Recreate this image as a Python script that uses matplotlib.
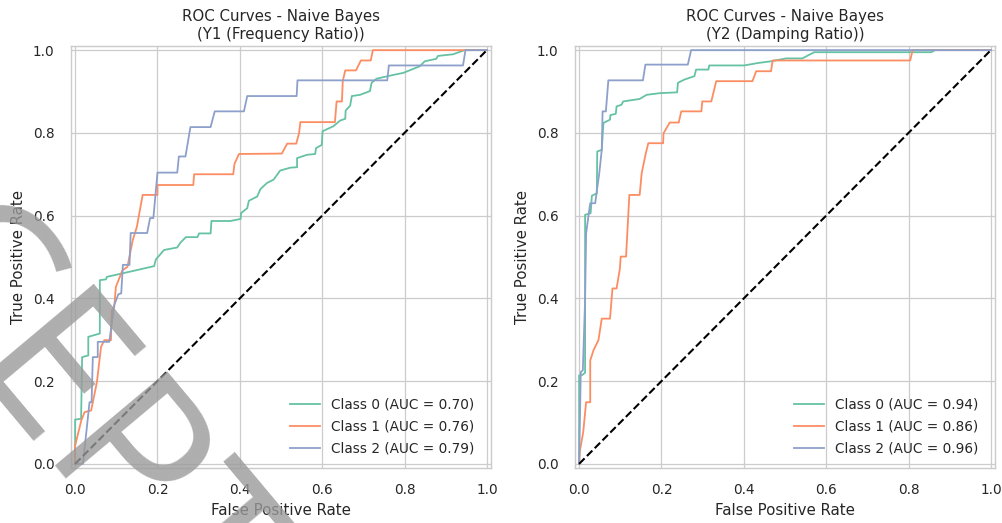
import matplotlib
matplotlib.use("Agg")
import numpy as np
import matplotlib.pyplot as plt
from matplotlib.font_manager import FontProperties
from matplotlib.textpath import TextPath

# ---------------- data ----------------
titles = ["ROC Curves - Naive Bayes\n(Y1 (Frequency Ratio))",
          "ROC Curves - Naive Bayes\n(Y2 (Damping Ratio))"]
class_labels = ["Class 0", "Class 1", "Class 2"]
auc_y1 = [0.70, 0.76, 0.79]
auc_y2 = [0.94, 0.86, 0.96]
ticks = [0.0, 0.2, 0.4, 0.6, 0.8, 1.0]

# Y1 curves
y1_c0_fpr = [0, 0, .0145, .017, .032, .032, .060, .060, .075, .077, .095, .144, .192, .196, .216, .248,
             .256, .269, .297, .301, .329, .331, .377, .402, .403, .418, .422, .442, .450, .466, .482,
             .498, .523, .539, .539, .563, .583, .585, .599, .601, .627, .644, .656, .657, .668, .672,
             .692, .716, .720, .732, .777, .797, .837, .849, .877, .881, .918, .946, 1.0]
y1_c0_tpr = [0, .107, .109, .258, .262, .307, .315, .444, .446, .452, .456, .467, .478, .494, .517, .523,
             .535, .548, .548, .557, .557, .587, .587, .592, .606, .618, .636, .646, .664, .679, .687,
             .709, .716, .717, .739, .747, .749, .763, .771, .804, .816, .830, .834, .854, .866, .889,
             .892, .901, .921, .931, .941, .945, .961, .973, .979, .986, .990, 1.0, 1.0]

y1_c1_fpr = [0, 0, .015, .023, .039, .043, .053, .063, .071, .087, .089, .095, .099, .115, .127, .140,
             .150, .164, .200, .200, .287, .289, .384, .387, .398, .502, .515, .537, .544, .547, .631,
             .635, .648, .650, .656, .682, .694, .718, .723, 1.0]
y1_c1_tpr = [0, .044, .105, .125, .129, .149, .198, .283, .299, .299, .371, .379, .428, .468, .476, .541,
             .573, .650, .650, .674, .674, .700, .700, .725, .749, .750, .774, .774, .800, .826, .826,
             .876, .876, .925, .951, .951, .975, .975, 1.0, 1.0]

y1_c2_fpr = [0, .019, .035, .040, .043, .055, .055, .083, .095, .105, .112, .116, .132, .135, .175, .182,
             .190, .200, .248, .252, .268, .280, .329, .339, .410, .418, .538, .540, .758, .762, .942,
             .948, 1.0]
y1_c2_tpr = [0, 0, .149, .149, .258, .258, .295, .295, .384, .410, .412, .481, .481, .558, .558, .594,
             .594, .704, .704, .743, .743, .814, .814, .852, .852, .889, .889, .927, .927, .963, .963,
             1.0, 1.0]

# Y2 curves
y2_c0_fpr = [0, 0, .006, .0145, .0145, .028, .031, .043, .044, .055, .059, .075, .076, .089, .091, .103,
             .107, .147, .164, .196, .238, .240, .256, .280, .284, .314, .316, .401, .435, .466, .502,
             .542, .571, .855, .865, 1.0]
y2_c0_tpr = [0, .214, .214, .220, .602, .606, .648, .654, .755, .759, .824, .832, .843, .846, .864, .868,
             .876, .882, .892, .896, .898, .921, .929, .937, .953, .953, .963, .963, .969, .973, .980,
             .980, .995, .995, 1.0, 1.0]

y2_c1_fpr = [0, .002, .010, .017, .027, .027, .035, .047, .055, .075, .081, .091, .099, .101, .114, .122,
             .147, .152, .162, .168, .204, .205, .220, .242, .248, .297, .299, .321, .333, .421, .430,
             .466, .470, .804, .810, 1.0]
y2_c1_tpr = [0, .032, .077, .149, .149, .250, .275, .299, .351, .351, .424, .424, .472, .501, .501, .650,
             .650, .703, .751, .775, .775, .799, .825, .825, .852, .852, .876, .876, .925, .925, .949,
             .949, .975, .975, 1.0, 1.0]

y2_c2_fpr = [0, .004, .009, .0145, .017, .023, .027, .039, .049, .055, .057, .065, .071, .155, .161, .264,
             .272, 1.0]
y2_c2_tpr = [0, .222, .226, .396, .557, .602, .630, .630, .703, .759, .852, .852, .927, .927, .965, .965,
             1.0, 1.0]

curves = [
    [(y1_c0_fpr, y1_c0_tpr), (y1_c1_fpr, y1_c1_tpr), (y1_c2_fpr, y1_c2_tpr)],
    [(y2_c0_fpr, y2_c0_tpr), (y2_c1_fpr, y2_c1_tpr), (y2_c2_fpr, y2_c2_tpr)],
]
aucs = [auc_y1, auc_y2]
watermark = "ACCEPTED"

# ---------------- style ----------------
colors = ["#66c2a5", "#fc8d62", "#8da0cb"]
text_c = "#262626"
grid_c = "#cccccc"
plt.rcParams['font.family'] = ['DejaVu Sans']

W, H = 1003, 523
fig = plt.figure(figsize=(W / 100, H / 100), dpi=100)

ax_boxes = [(71, 46, 491, 468), (575, 46, 995, 468)]
for i, (x0, y0, x1, y1) in enumerate(ax_boxes):
    ax = fig.add_axes([x0 / W, 1 - y1 / H, (x1 - x0) / W, (y1 - y0) / H])
    ax.set_facecolor("white")
    for s in ax.spines.values():
        s.set_color(grid_c)
        s.set_linewidth(1.05)
    ax.grid(True, color=grid_c, linewidth=0.9)
    ax.set_axisbelow(True)
    for k, (fpr, tpr) in enumerate(curves[i]):
        ax.plot(fpr, tpr, color=colors[k], lw=1.3,
                label=f"{class_labels[k]} (AUC = {aucs[i][k]:.2f})")
    ax.plot([0, 1], [0, 1], 'k--', lw=1.5)
    ax.set_xlim(-0.01, 1.01)
    ax.set_ylim(-0.01, 1.01)
    ax.set_xticks(ticks)
    ax.set_yticks(ticks)
    ax.set_xticklabels([f"{t:.1f}" for t in ticks])
    ax.set_yticklabels([f"{t:.1f}" for t in ticks])
    ax.tick_params(axis='x', length=0, pad=11, labelsize=9.8, colors=text_c)
    ax.tick_params(axis='y', length=0, pad=12, labelsize=9.8, colors=text_c)
    ax.set_xlabel("False Positive Rate", fontsize=10.8, color=text_c, labelpad=4)
    ax.set_ylabel("True Positive Rate", fontsize=10.8, color=text_c, labelpad=5)
    ax.set_title(titles[i], fontsize=10.8, color=text_c, pad=5, linespacing=1.25)
    leg = ax.legend(loc="lower right", bbox_to_anchor=(1.0, -0.01), frameon=False,
                    fontsize=9.8, handlelength=2.2, borderaxespad=0.8, labelspacing=0.6)
    for t in leg.get_texts():
        t.set_color(text_c)

# watermark overlay (rotated sans text)
fs = 148
fp = FontProperties(family=['Open Sans', 'Liberation Sans'], weight='normal', size=fs)
px = 100 / 72.0
p_off = (TextPath((0, 0), "ACCEP", size=fs, prop=fp).get_extents().x1
         - TextPath((0, 0), "P", size=fs, prop=fp).get_extents().width) * px
ang = np.deg2rad(-50)
r_img = np.array([np.cos(ang), -np.sin(ang)])   # reading direction in image px (y down)
p_stem_left = np.array([54.0, 466.0])
start = p_stem_left - p_off * r_img
fig.text(start[0] / W, 1 - start[1] / H, watermark, fontproperties=fp,
         color="#9a9a9a", alpha=0.8, rotation=-50, rotation_mode='anchor',
         ha='left', va='baseline', zorder=10)

fig.savefig("out.png", dpi=100)
